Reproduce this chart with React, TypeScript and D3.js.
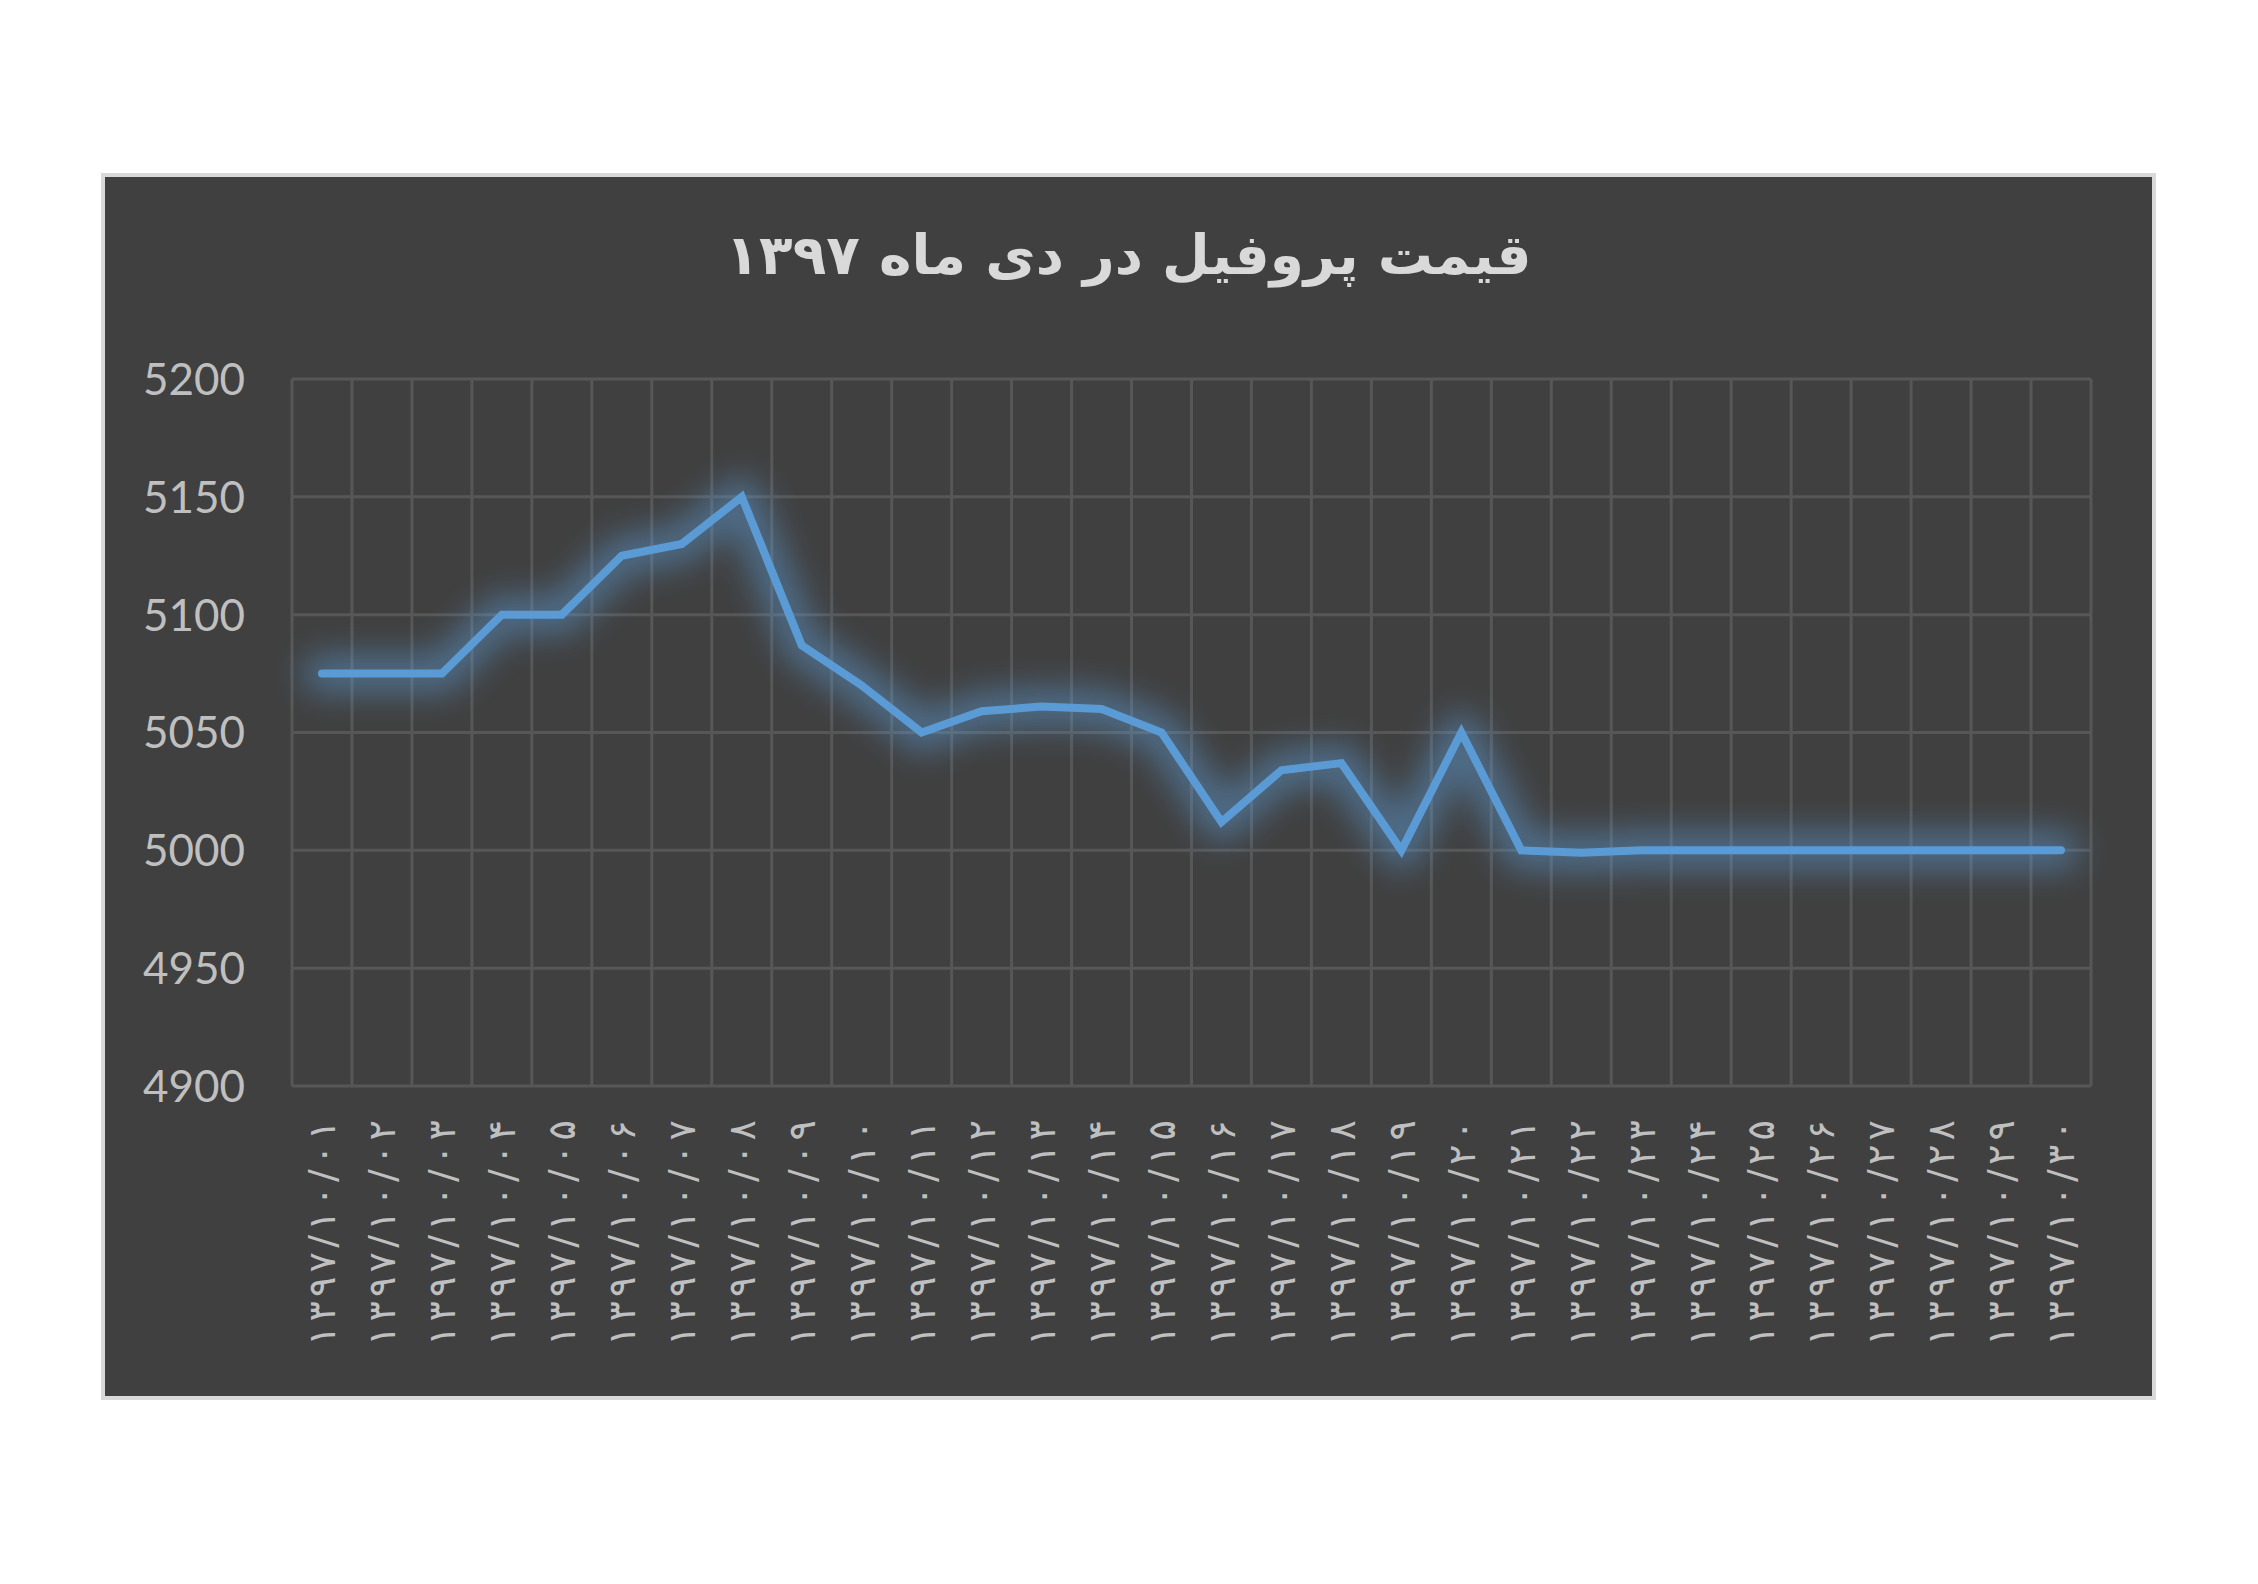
import React from "react";
import * as d3 from "d3";

const title = "قیمت پروفیل در دی ماه ۱۳۹۷";

const categories = [
  "۱۳۹۷/۱۰/۰۱", "۱۳۹۷/۱۰/۰۲", "۱۳۹۷/۱۰/۰۳", "۱۳۹۷/۱۰/۰۴", "۱۳۹۷/۱۰/۰۵",
  "۱۳۹۷/۱۰/۰۶", "۱۳۹۷/۱۰/۰۷", "۱۳۹۷/۱۰/۰۸", "۱۳۹۷/۱۰/۰۹", "۱۳۹۷/۱۰/۱۰",
  "۱۳۹۷/۱۰/۱۱", "۱۳۹۷/۱۰/۱۲", "۱۳۹۷/۱۰/۱۳", "۱۳۹۷/۱۰/۱۴", "۱۳۹۷/۱۰/۱۵",
  "۱۳۹۷/۱۰/۱۶", "۱۳۹۷/۱۰/۱۷", "۱۳۹۷/۱۰/۱۸", "۱۳۹۷/۱۰/۱۹", "۱۳۹۷/۱۰/۲۰",
  "۱۳۹۷/۱۰/۲۱", "۱۳۹۷/۱۰/۲۲", "۱۳۹۷/۱۰/۲۳", "۱۳۹۷/۱۰/۲۴", "۱۳۹۷/۱۰/۲۵",
  "۱۳۹۷/۱۰/۲۶", "۱۳۹۷/۱۰/۲۷", "۱۳۹۷/۱۰/۲۸", "۱۳۹۷/۱۰/۲۹", "۱۳۹۷/۱۰/۳۰",
];

const prices = [
  5075, 5075, 5075, 5100, 5100, 5125, 5130, 5150, 5087, 5070,
  5050, 5059, 5061, 5060, 5050, 5012, 5034, 5037, 5000, 5050,
  5000, 4999, 5000, 5000, 5000, 5000, 5000, 5000, 5000, 5000,
];

const yTicks = [4900, 4950, 5000, 5050, 5100, 5150, 5200];

const W = 2258;
const H = 1584;
const frame = { x: 103, y: 175, w: 2051, h: 1223 };
const plot = { left: 292, right: 2091, top: 379, bottom: 1086 };

export default function App() {
  const x = d3
    .scaleBand<string>()
    .domain(categories)
    .range([plot.left, plot.right])
    .padding(0);
  const y = d3
    .scaleLinear()
    .domain([4900, 5200])
    .range([plot.bottom, plot.top]);

  const cx = (c: string) => (x(c) as number) + x.bandwidth() / 2;
  const lineGen = d3
    .line<number>()
    .x((_, i) => cx(categories[i]))
    .y((d) => y(d));
  const path = lineGen(prices) || "";

  const boundaries = categories.map((c) => x(c) as number).concat([plot.right]);

  const gridColor = "#575757";
  const textColor = "#bfbfbf";

  return (
    <svg
      width={W}
      height={H}
      style={{ position: "absolute", left: 0, top: 0, background: "#ffffff" }}
    >
      <defs>
        <filter id="glow" x="-10%" y="-60%" width="120%" height="220%">
          <feGaussianBlur stdDeviation="16" />
        </filter>
      </defs>
      <rect x={0} y={0} width={W} height={H} fill="#ffffff" />
      <rect
        x={frame.x}
        y={frame.y}
        width={frame.w}
        height={frame.h}
        fill="#404040"
        stroke="#d9d9d9"
        strokeWidth={4}
      />
      <text
        x={frame.x + frame.w / 2}
        y={274}
        textAnchor="middle"
        direction="rtl"
        fontFamily="'DejaVu Sans', sans-serif"
        fontWeight="bold"
        fontSize={55}
        fill="#d9d9d9"
      >
        {title}
      </text>

      {/* grid */}
      <g>
        {yTicks.map((t) => (
          <line
            key={"h" + t}
            x1={plot.left}
            x2={plot.right}
            y1={y(t)}
            y2={y(t)}
            stroke={gridColor}
            strokeWidth={3}
          />
        ))}
        {boundaries.map((b, i) => (
          <line
            key={"v" + i}
            x1={b}
            x2={b}
            y1={plot.top}
            y2={plot.bottom}
            stroke={gridColor}
            strokeWidth={3}
          />
        ))}
      </g>

      {/* y tick labels */}
      <g>
        {yTicks.map((t) => (
          <text
            key={"yl" + t}
            x={245}
            y={y(t)}
            dy="0.36em"
            textAnchor="end"
            fontFamily="Lato, 'Open Sans', sans-serif"
            fontSize={44}
            fill={textColor}
          >
            {t}
          </text>
        ))}
      </g>

      {/* x tick labels */}
      <g>
        {categories.map((c) => (
          <text
            key={"xl" + c}
            transform={`translate(${cx(c)},${1120}) rotate(-90)`}
            dy="0.35em"
            textAnchor="end"
            direction="ltr"
            textLength={226}
            lengthAdjust="spacing"
            fontFamily="'DejaVu Sans', sans-serif"
            fontSize={38}
            fill={textColor}
          >
            {c}
          </text>
        ))}
      </g>

      {/* glow + line */}
      <path
        d={path}
        fill="none"
        stroke="#5b9bd5"
        strokeOpacity={0.5}
        strokeWidth={38}
        strokeLinejoin="round"
        strokeLinecap="round"
        filter="url(#glow)"
      />
      <path
        d={path}
        fill="none"
        stroke="#5b9bd5"
        strokeWidth={8}
        strokeLinejoin="miter"
        strokeLinecap="round"
      />
    </svg>
  );
}
